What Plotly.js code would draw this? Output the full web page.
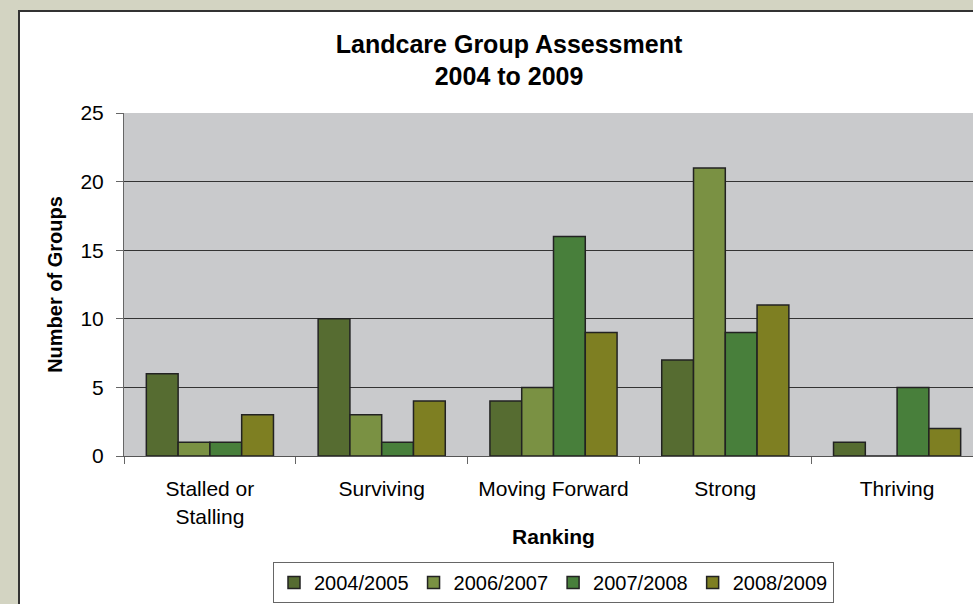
<!DOCTYPE html>
<html>
<head>
<meta charset="utf-8">
<script src="https://cdn.plot.ly/plotly-3.0.1.min.js"></script>
<style>
  html, body { margin:0; padding:0; width:973px; height:604px; overflow:hidden; background:#d3d4c2; }
  #chart { position:absolute; left:18px; top:10px; width:990px; height:600px; border:2px solid #333; background:#fff; }
</style>
</head>
<body>
<div id="chart"></div>
<script>
const categories = ["Stalled or<br>Stalling", "Surviving", "Moving Forward", "Strong", "Thriving"];
const seriesNames = ["2004/2005", "2006/2007", "2007/2008", "2008/2009"];
const v2004_2005 = [6, 10, 4, 7, 1];
const v2006_2007 = [1, 3, 5, 21, 0];
const v2007_2008 = [1, 1, 16, 9, 5];
const v2008_2009 = [3, 4, 9, 11, 2];
const yTicks = [0, 5, 10, 15, 20, 25];

const seriesValues = [v2004_2005, v2006_2007, v2007_2008, v2008_2009];
const colors = ["#566c31", "#7a9143", "#487f3b", "#7e7f22"];
const FONT = "Liberation Sans, Arial, sans-serif";

const data = seriesValues.map((vals, i) => ({
  type: "bar",
  name: seriesNames[i],
  x: categories,
  y: vals,
  marker: { color: colors[i], line: { color: "#222", width: 1.5 } },
  hoverinfo: "none"
}));

const layout = {
  width: 990, height: 600,
  margin: { l: 104, r: 27, t: 101, b: 156, autoexpand: false },
  paper_bgcolor: "#ffffff",
  plot_bgcolor: "#c9cacc",
  font: { family: FONT, color: "#000", size: 21 },
  title: {
    text: "<b>Landcare Group Assessment<br>2004 to 2009</b>",
    font: { family: FONT, size: 25, color: "#000" },
    x: 0.494, xref: "container", xanchor: "center",
    y: 0.932, yref: "container", yanchor: "middle"
  },
  bargap: 0.26,
  bargroupgap: 0,
  barmode: "group",
  xaxis: {
    type: "category",
    tickson: "boundaries",
    ticks: "outside", ticklen: 7, tickcolor: "#666", tickwidth: 1,
    showline: true, linecolor: "#555", linewidth: 1,
    showgrid: false,
    ticklabelstandoff: 14,
    tickfont: { family: FONT, size: 21 },
    title: { text: "<b>Ranking</b>", font: { family: FONT, size: 21 }, standoff: 2 },
    automargin: false
  },
  yaxis: {
    range: [0, 25],
    tickvals: yTicks,
    ticktext: yTicks.map(String),
    ticks: "outside", ticklen: 7, tickcolor: "#666", tickwidth: 1,
    showline: true, linecolor: "#666", linewidth: 1,
    showgrid: true, gridcolor: "#333", gridwidth: 1,
    zeroline: false,
    ticklabelstandoff: 8,
    tickfont: { family: FONT, size: 21 },
    title: { text: "<b>Number of Groups</b>", font: { family: FONT, size: 20 }, standoff: 12 },
    automargin: false
  },
  legend: {
    orientation: "h",
    x: 0.5, xanchor: "center", xref: "paper",
    y: -0.309, yanchor: "top",
    bgcolor: "#ffffff", bordercolor: "#666", borderwidth: 1,
    font: { family: FONT, size: 20 },
    traceorder: "normal"
  },
  showlegend: true
};

Plotly.newPlot("chart", data, layout, { displayModeBar: false, staticPlot: true });
</script>
</body>
</html>
